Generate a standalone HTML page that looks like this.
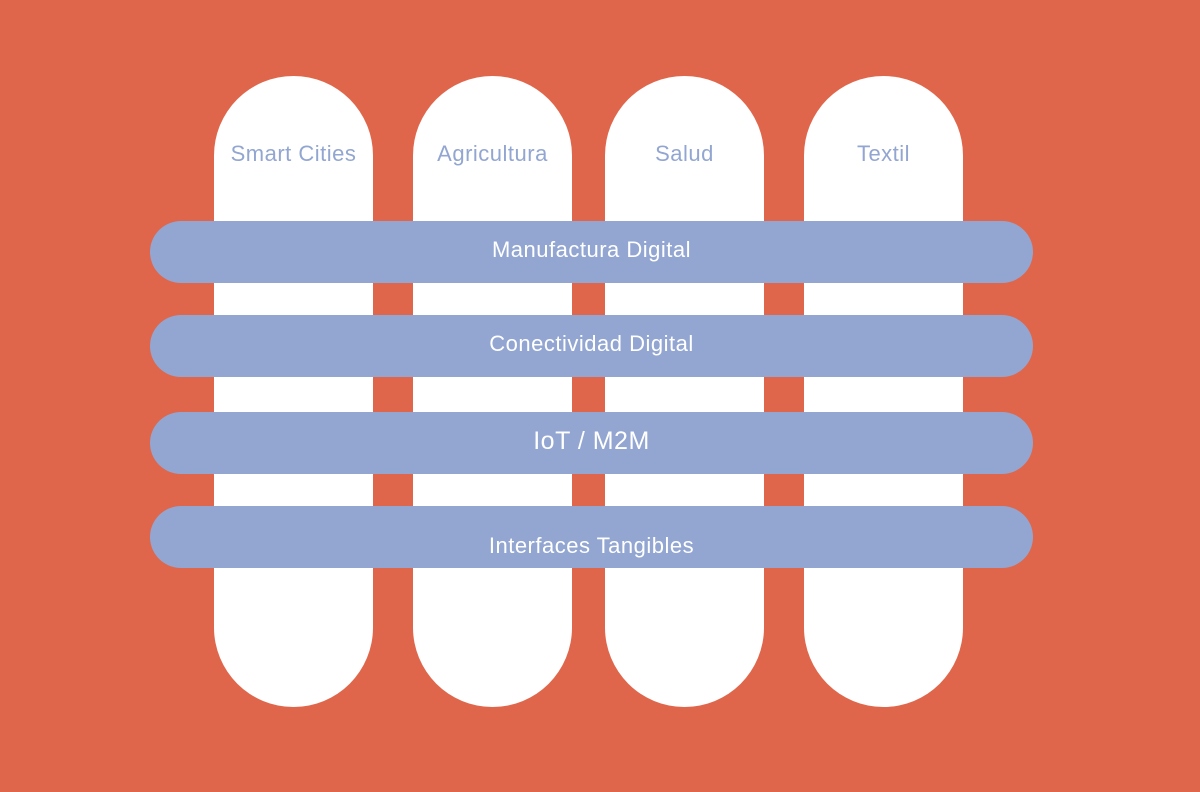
<!DOCTYPE html>
<html><head><style>
body{margin:0;width:1200px;height:792px;background:#E0664B;position:relative;overflow:hidden;font-family:"Liberation Sans Narrow","Liberation Sans",sans-serif;}
.c{position:absolute;top:76px;height:631px;width:159px;background:#fff;border-radius:80px;}
.c span{position:absolute;top:65px;left:0;right:0;text-align:center;color:#92A6D1;font-size:22px;letter-spacing:0.5px;}
.b{position:absolute;left:150px;width:883px;height:62px;background:#92A6D1;border-radius:31px;color:#fff;font-size:22px;letter-spacing:0.5px;text-align:center;line-height:58px;}
</style></head><body>
<div class="c" style="left:214px"><span>Smart Cities</span></div>
<div class="c" style="left:413px"><span>Agricultura</span></div>
<div class="c" style="left:605px"><span>Salud</span></div>
<div class="c" style="left:804px"><span>Textil</span></div>
<div class="b" style="top:221px">Manufactura Digital</div>
<div class="b" style="top:315px">Conectividad Digital</div>
<div class="b" style="top:412px;font-size:25px;">IoT / M2M</div>
<div class="b" style="top:506px;line-height:80px">Interfaces Tangibles</div>
</body></html>
